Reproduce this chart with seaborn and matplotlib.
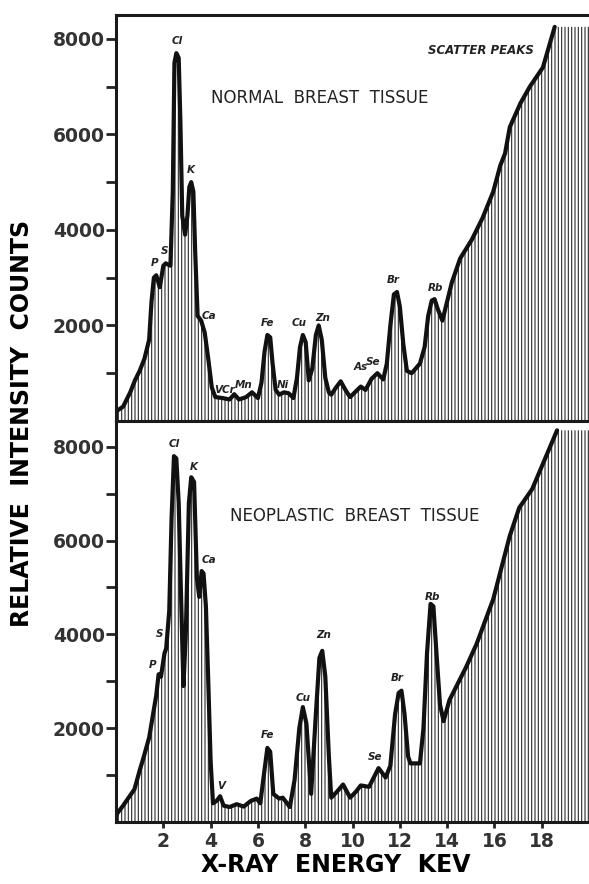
import matplotlib
matplotlib.use("Agg")
import matplotlib.pyplot as plt
import numpy as np
import pandas as pd
import seaborn as sns

# spectrum readings (keV, counts), normal tissue
normal_kev = [0.0, 0.3, 0.6, 0.8, 1.0, 1.2, 1.4, 1.5, 1.6, 1.7, 1.85, 2.0, 2.1, 2.3,
              2.4, 2.47, 2.55, 2.65, 2.72, 2.8, 2.92, 3.02, 3.1, 3.18, 3.27, 3.35, 3.45,
              3.6, 3.75, 3.9, 4.05, 4.2, 4.5, 4.8, 5.0, 5.2, 5.5, 5.75, 6.0, 6.15, 6.28,
              6.4, 6.52, 6.62, 6.75, 6.9, 7.1, 7.3, 7.5, 7.65, 7.78, 7.9, 8.02, 8.15, 8.3,
              8.45, 8.57, 8.7, 8.85, 9.0, 9.1, 9.3, 9.5, 9.7, 9.9, 10.1, 10.35, 10.55,
              10.8, 11.05, 11.3, 11.45, 11.6, 11.75, 11.88, 12.0, 12.15, 12.3, 12.5,
              12.85, 13.05, 13.2, 13.35, 13.47, 13.6, 13.8, 14.0, 14.2, 14.55, 15.05,
              15.5, 15.95, 16.25, 16.45, 16.65, 17.1, 17.5, 18.05, 18.55, 20.0]
normal_counts = [200, 300, 600, 850, 1050, 1300, 1700, 2500, 3000, 3050, 2800, 3250, 3300,
                 3250, 4800, 7500, 7700, 7600, 6300, 4300, 3900, 4300, 4900, 5000, 4800,
                 3500, 2200, 2100, 1850, 1300, 700, 500, 480, 450, 560, 450, 500, 600, 480,
                 800, 1450, 1800, 1750, 1200, 650, 550, 600, 580, 480, 900, 1550, 1800,
                 1650, 850, 1100, 1800, 2000, 1700, 900, 600, 550, 700, 830, 650, 500, 600,
                 720, 650, 880, 1000, 870, 1200, 2000, 2650, 2700, 2400, 1600, 1050, 1000,
                 1200, 1550, 2200, 2520, 2550, 2350, 2100, 2500, 2900, 3400, 3800, 4250,
                 4800, 5350, 5600, 6150, 6650, 7000, 7400, 8250, 8250]

# neoplastic tissue
neo_kev = [0.0, 0.3, 0.78, 1.0, 1.15, 1.4, 1.7, 1.8, 1.9, 2.05, 2.12, 2.25, 2.35, 2.45,
           2.55, 2.65, 2.75, 2.85, 2.95, 3.08, 3.18, 3.3, 3.42, 3.52, 3.62, 3.7, 3.8,
           3.9, 4.0, 4.1, 4.25, 4.4, 4.55, 4.8, 5.1, 5.4, 5.7, 5.95, 6.1, 6.25, 6.4,
           6.52, 6.65, 6.9, 7.05, 7.35, 7.55, 7.75, 7.9, 8.05, 8.25, 8.45, 8.6, 8.72,
           8.85, 9.0, 9.1, 9.35, 9.6, 9.9, 10.15, 10.35, 10.7, 11.1, 11.4, 11.6, 11.8,
           11.95, 12.07, 12.2, 12.35, 12.45, 12.85, 13.0, 13.15, 13.3, 13.42, 13.55,
           13.7, 13.85, 14.1, 14.8, 15.25, 15.95, 16.65, 17.05, 17.6, 18.65, 20.0]
neo_counts = [150, 350, 700, 1100, 1350, 1800, 2700, 3150, 3100, 3600, 3700, 4500, 6500,
              7800, 7750, 6800, 4800, 2900, 4000, 6800, 7350, 7250, 5200, 4800, 5350,
              5300, 4600, 3000, 1300, 400, 450, 550, 350, 320, 380, 330, 450, 500, 400,
              1000, 1580, 1500, 600, 500, 520, 320, 900, 2000, 2450, 2100, 600, 2300,
              3500, 3650, 3100, 1400, 520, 650, 800, 520, 650, 780, 750, 1150, 950, 1200,
              2300, 2750, 2800, 2300, 1400, 1250, 1250, 2000, 3600, 4650, 4600, 3600,
              2500, 2150, 2600, 3300, 3800, 4750, 6100, 6700, 7100, 8350, 8350]

# element labels
normal_labels = ["P", "S", "Cl", "K", "Ca", "VCr", "Mn", "Fe", "Ni", "Cu", "Zn", "As", "Se", "Br", "Rb"]
normal_label_kev = [1.62, 2.04, 2.58, 3.18, 3.94, 4.6, 5.4, 6.42, 7.05, 7.73, 8.74, 10.34, 10.88, 11.73, 13.5]
normal_label_counts = [3300, 3550, 7950, 5250, 2200, 640, 760, 2060, 760, 2060, 2160, 1125, 1230, 2950, 2780]

neo_labels = ["P", "S", "Cl", "K", "Ca", "V", "Fe", "Cu", "Zn", "Se", "Br", "Rb"]
neo_label_kev = [1.55, 1.85, 2.46, 3.3, 3.94, 4.44, 6.42, 7.9, 8.78, 10.97, 11.9, 13.37]
neo_label_counts = [3350, 4000, 8060, 7560, 5580, 760, 1850, 2650, 3980, 1380, 3060, 4800]

x_ticks = [2, 4, 6, 8, 10, 12, 14, 16, 18]
y_major = [2000, 4000, 6000, 8000]
y_minor = [1000, 3000, 5000, 7000]

sns.set_theme(style="ticks")
plt.rcParams["font.family"] = ["DejaVu Sans"]
plt.rcParams["hatch.linewidth"] = 0.8
plt.rcParams["axes.linewidth"] = 2.2


def draw_panel(ax, kev, counts, labels, lab_x, lab_y, title, title_xy, ymax):
    df = pd.DataFrame({"kev": kev, "counts": counts})
    ax.fill_between(df["kev"], 0, df["counts"], facecolor="white", edgecolor="#2a2a2a",
                    hatch="|||||", linewidth=0)
    line_df = df.iloc[:-1]
    sns.lineplot(data=line_df, x="kev", y="counts", ax=ax, color="#111111",
                 linewidth=3.0, sort=False, estimator=None)
    for lab, lx, ly in zip(labels, lab_x, lab_y):
        ax.text(lx, ly, lab, ha="center", va="center", fontsize=7.5,
                fontweight="bold", fontstyle="italic", color="#222222")
    ax.text(title_xy[0], title_xy[1], title, ha="center", va="center", fontsize=12,
            color="#222222")
    ax.set_xlim(0, 20)
    ax.set_ylim(0, ymax)
    ax.set_yticks(y_major)
    ax.set_yticks(y_minor, minor=True)
    ax.set_yticklabels([str(v) for v in y_major], fontsize=13.5, fontweight="bold",
                       color="#333333")
    ax.set_xticks(x_ticks)
    ax.tick_params(axis="y", which="both", direction="out", length=7, width=2,
                   pad=1, color="#222222")
    ax.tick_params(axis="x", which="both", direction="out", length=4, width=2,
                   color="#222222")
    ax.set_xlabel("")
    ax.set_ylabel("")
    ax.spines["right"].set_visible(False)
    for s in ["left", "top", "bottom"]:
        ax.spines[s].set_color("#1a1a1a")


fig = plt.figure(figsize=(5.89, 8.84), dpi=100)
ax_top = fig.add_axes([0.197, 0.5238, 0.803, 0.4593])
ax_bot = fig.add_axes([0.197, 0.0701, 0.803, 0.4537])

draw_panel(ax_top, normal_kev, normal_counts, normal_labels, normal_label_kev,
           normal_label_counts, "NORMAL  BREAST  TISSUE", (8.6, 6770), 8500)
ax_top.text(15.45, 7750, "SCATTER PEAKS", ha="center", va="center", fontsize=8.5,
            fontweight="bold", fontstyle="italic", color="#222222")
ax_top.set_xticklabels([])

draw_panel(ax_bot, neo_kev, neo_counts, neo_labels, neo_label_kev, neo_label_counts,
           "NEOPLASTIC  BREAST  TISSUE", (10.1, 6520), 8550)
ax_bot.set_xticklabels([str(v) for v in x_ticks], fontsize=13.5, fontweight="bold",
                       color="#333333")

fig.text(0.037, 0.521, "RELATIVE  INTENSITY  COUNTS", rotation=90, ha="center",
         va="center", fontsize=17, fontweight="heavy", color="black")
fig.text(0.57, 0.022, "X-RAY  ENERGY  KEV", ha="center", va="center", fontsize=17,
         fontweight="heavy", color="black")

fig.savefig("out.png", dpi=100)
